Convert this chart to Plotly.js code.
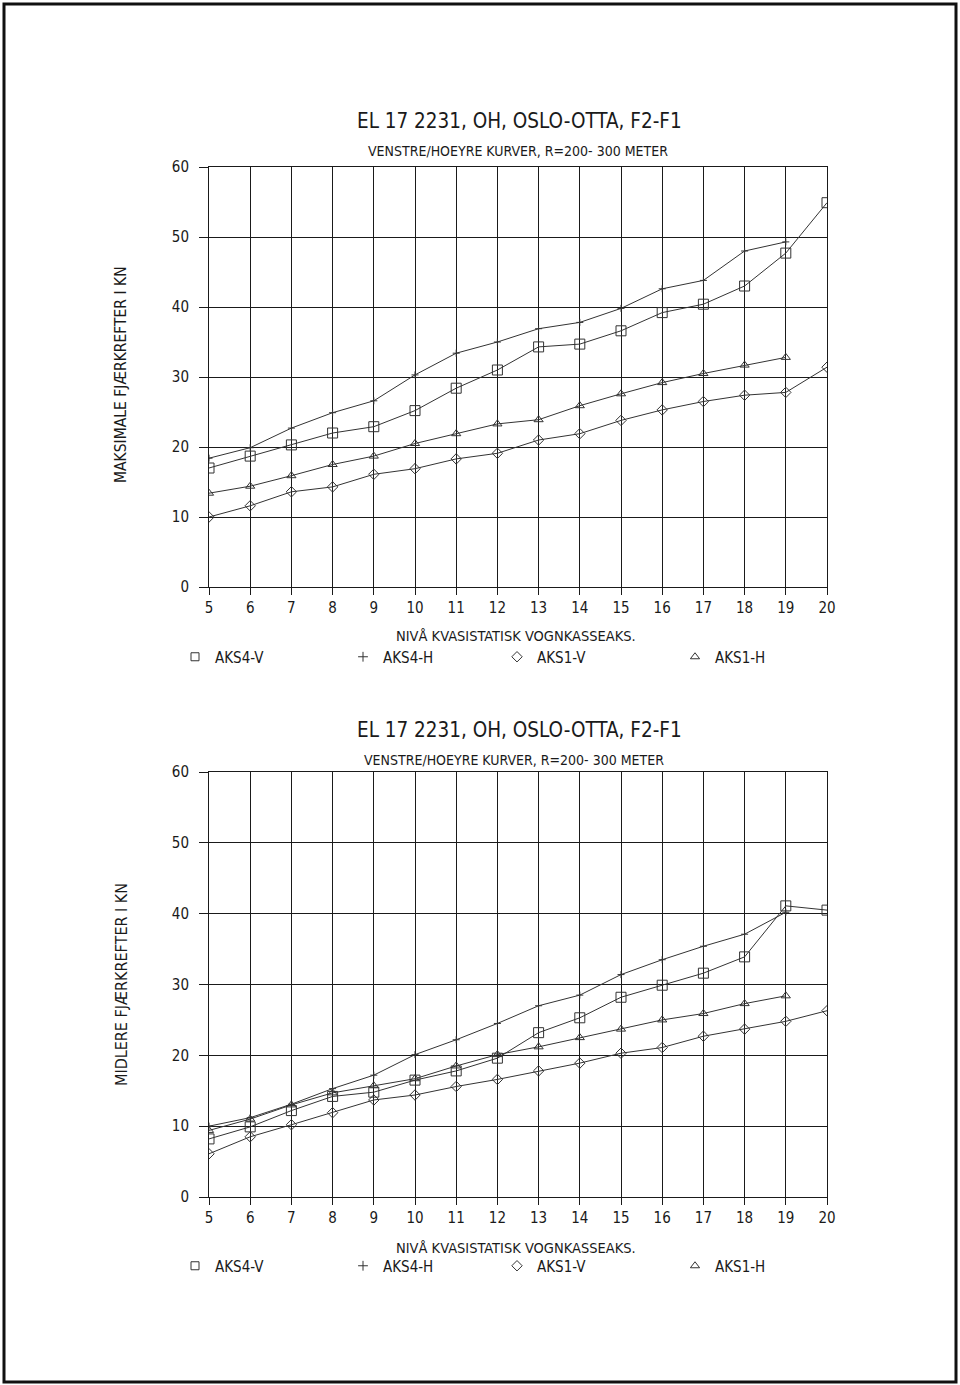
<!DOCTYPE html>
<html><head><meta charset="utf-8">
<script src="https://cdn.plot.ly/plotly-3.0.1.min.js"></script>
<style>body{margin:0;background:#fff}#chart{width:960px;height:1385px}</style>
</head><body><div id="chart"></div>
<script>
const levels = [5,6,7,8,9,10,11,12,13,14,15,16,17,18,19,20];
const seriesNames = ['AKS4-V','AKS4-H','AKS1-V','AKS1-H'];

// Upper chart: maximum spring forces (kN)
const maxAks4V = [17.0,18.7,20.3,22.0,22.9,25.2,28.4,31.0,34.3,34.7,36.6,39.2,40.4,43.0,47.7,54.9];
const maxAks4H = [18.4,19.9,22.7,24.9,26.6,30.3,33.4,35.0,36.9,37.8,39.8,42.6,43.8,48.0,49.3];
const maxAks1V = [10.0,11.6,13.6,14.3,16.1,16.9,18.3,19.1,21.0,21.9,23.8,25.3,26.5,27.4,27.8,31.4];
const maxAks1H = [13.4,14.4,15.9,17.5,18.7,20.5,21.9,23.3,23.9,25.9,27.6,29.2,30.5,31.7,32.8];

// Lower chart: mean spring forces (kN)
const midAks4V = [8.2,9.9,12.2,14.2,14.8,16.5,17.8,19.6,23.2,25.3,28.2,29.9,31.6,33.9,41.1,40.5];
const midAks4H = [10.0,11.2,13.1,15.3,17.2,20.1,22.2,24.5,27.0,28.5,31.4,33.5,35.4,37.1,40.2];
const midAks1V = [6.1,8.5,10.2,11.9,13.7,14.4,15.6,16.6,17.8,18.9,20.3,21.1,22.7,23.7,24.8,26.3];
const midAks1H = [9.4,11.0,13.0,14.7,15.7,16.7,18.5,20.1,21.2,22.5,23.7,25.0,25.9,27.3,28.4];

const xTickVals = [5,6,7,8,9,10,11,12,13,14,15,16,17,18,19,20];
const yTickVals = [0,10,20,30,40,50,60];

const titleText = 'EL 17 2231, OH, OSLO-OTTA, F2-F1';
const subtitleText = 'VENSTRE/HOEYRE KURVER, R=200- 300 METER';
const xTitleText = 'NIVÅ KVASISTATISK VOGNKASSEAKS.';
const yTitleTop = 'MAKSIMALE FJÆRKREFTER I KN';
const yTitleBottom = 'MIDLERE FJÆRKREFTER I KN';

const W = 960, H = 1385;
const px = x => x / W;
const py = y => 1 - y / H;
const FONT = '"DejaVu Sans Condensed", "Liberation Sans Narrow", sans-serif';
const INK = '#1a1a1a';

const symbols = ['square-open','cross-thin-open','diamond-open','triangle-up-open'];
const sizes = [10,5,8,8];

function lineTrace(y, i, xa, ya) {
  return {
    x: levels.slice(0, y.length), y: y, xaxis: xa, yaxis: ya,
    type: 'scatter', mode: 'lines+markers', showlegend: false,
    line: {color: '#333', width: 1},
    marker: {symbol: symbols[i], size: sizes[i], color: '#333', line: {color: '#333', width: 1}},
    name: seriesNames[i], hoverinfo: 'skip'
  };
}
function legendTrace(i, legendId) {
  return {
    x: [null], y: [null], type: 'scatter', mode: 'markers', name: seriesNames[i],
    legend: legendId, showlegend: true,
    marker: {symbol: symbols[i], size: i === 1 ? 7 : 8, color: '#333', line: {color: '#333', width: 1}}
  };
}

const data = [
  lineTrace(maxAks4V,0,'x','y'), lineTrace(maxAks4H,1,'x','y'),
  lineTrace(maxAks1V,2,'x','y'), lineTrace(maxAks1H,3,'x','y'),
  lineTrace(midAks4V,0,'x2','y2'), lineTrace(midAks4H,1,'x2','y2'),
  lineTrace(midAks1V,2,'x2','y2'), lineTrace(midAks1H,3,'x2','y2')
];
const legendXs = [175, 343, 497, 675];
const layout = {
  width: W, height: H,
  margin: {l:0, r:0, t:0, b:0},
  paper_bgcolor: '#fff', plot_bgcolor: '#fff',
  font: {family: FONT, color: INK, size: 14},
  showlegend: true,
  annotations: [], shapes: []
};
for (let i = 0; i < 4; i++) {
  const idTop = i === 0 ? 'legend' : 'legend' + (i + 1);
  const idBot = 'legend' + (i + 5);
  data.push(legendTrace(i, idTop));
  data.push(legendTrace(i, idBot));
  const base = {bgcolor: 'rgba(0,0,0,0)', borderwidth: 0, font: {family: FONT, size: 15, color: INK},
    xanchor: 'left', yanchor: 'middle', orientation: 'h', itemwidth: 30};
  layout[idTop] = Object.assign({}, base, {x: px(legendXs[i]), y: py(657)});
  layout[idBot] = Object.assign({}, base, {x: px(legendXs[i]), y: py(1266)});
}

function xAxis(anchor) {
  return {
    domain: [px(209), px(827)], anchor: anchor, range: [5, 20],
    tickvals: xTickVals, ticktext: xTickVals.map(String),
    showgrid: true, gridcolor: INK, gridwidth: 1,
    showline: true, linecolor: INK, linewidth: 1, mirror: true,
    ticks: 'outside', ticklen: 7, tickcolor: INK, zeroline: false,
    tickfont: {family: FONT, size: 15, color: INK}, automargin: false, fixedrange: true
  };
}
function yAxis(anchor, top, bottom) {
  return {
    domain: [py(bottom), py(top)], anchor: anchor, range: [0, 60],
    tickvals: yTickVals, ticktext: yTickVals.map(String),
    showgrid: true, gridcolor: INK, gridwidth: 1,
    showline: true, linecolor: INK, linewidth: 1, mirror: true,
    ticks: 'outside', ticklen: 9, tickcolor: INK, zeroline: false, ticklabelstandoff: 7,
    tickfont: {family: FONT, size: 15, color: INK}, automargin: false, fixedrange: true
  };
}
layout.xaxis = xAxis('y');
layout.yaxis = yAxis('x', 167, 587);
layout.xaxis2 = xAxis('y2');
layout.yaxis2 = yAxis('x2', 772, 1197);

function ann(text, x, y, size, angle) {
  return {text: text, x: px(x), y: py(y), xref: 'paper', yref: 'paper', showarrow: false,
    xanchor: 'center', yanchor: 'middle', textangle: angle || 0,
    font: {family: FONT, size: size, color: INK}};
}
layout.annotations.push(
  ann(titleText, 519, 121, 20.5), ann(subtitleText, 518, 151, 14),
  ann(xTitleText, 516, 636, 14.5), ann(yTitleTop, 121, 375, 15.5, -90),
  ann(titleText, 519, 730, 20.5), ann(subtitleText, 514, 760, 14),
  ann(xTitleText, 516, 1248, 14.5), ann(yTitleBottom, 121, 985, 16, -90)
);
layout.shapes.push({type: 'rect', xref: 'paper', yref: 'paper',
  x0: px(4), x1: px(956), y0: py(4), y1: py(1382), line: {color: '#111', width: 3}});

Plotly.newPlot('chart', data, layout, {staticPlot: true, displayModeBar: false});
</script>
</body></html>
